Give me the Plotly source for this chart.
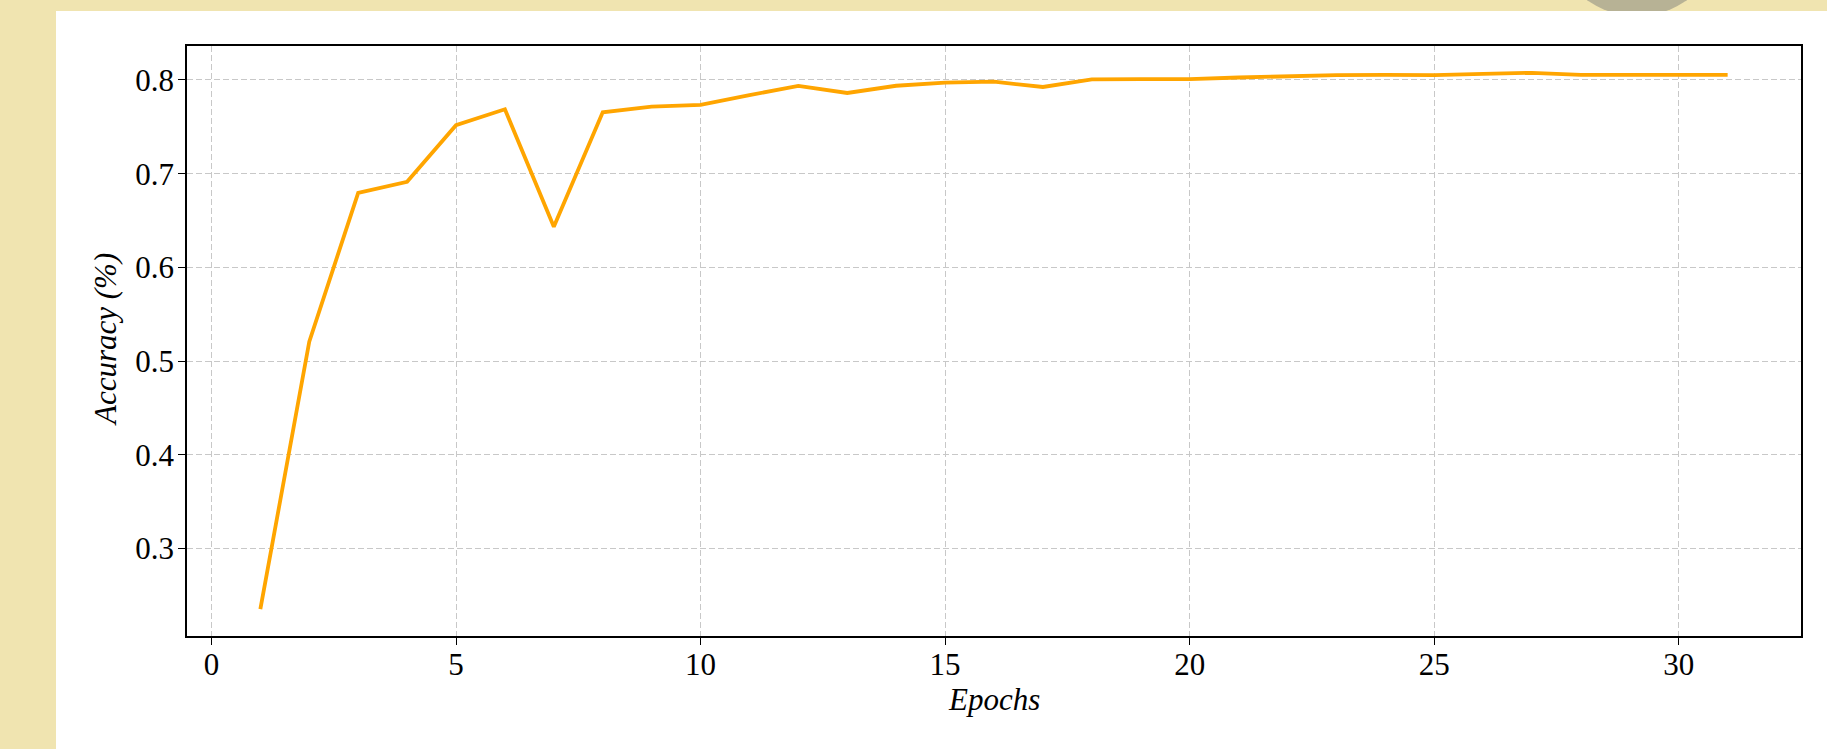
import plotly.graph_objects as go

# ---- data ----
epochs = list(range(1, 32))
accuracy = [0.2354, 0.5207, 0.6796, 0.6913, 0.7517, 0.7687, 0.6433, 0.7655,
            0.7716, 0.7734, 0.7838, 0.7936, 0.7861, 0.7938, 0.7972, 0.7981,
            0.7925, 0.8005, 0.8008, 0.8008, 0.8026, 0.8040, 0.8052, 0.8055,
            0.8051, 0.8064, 0.8076, 0.8054, 0.8054, 0.8054, 0.8055]
x_ticks = [0, 5, 10, 15, 20, 25, 30]
y_ticks = [0.3, 0.4, 0.5, 0.6, 0.7, 0.8]
y_tick_labels = ["0.3", "0.4", "0.5", "0.6", "0.7", "0.8"]
x_title = "Epochs"
y_title = "Accuracy (%)"

# ---- layout geometry (pixels) ----
W, H = 1827, 749
ML, MR, MT, MB = 187, 26, 46, 113
PW, PH = W - ML - MR, H - MT - MB


def px_x(p):
    return (p - ML) / PW


def px_y(p):
    return (H - MB - p) / PH


# matplotlib-style 5% autoscale margins
xmin, xmax = min(epochs), max(epochs)
ymin, ymax = min(accuracy), max(accuracy)
xr = [xmin - 0.05 * (xmax - xmin), xmax + 0.05 * (xmax - xmin)]
yr = [ymin - 0.05 * (ymax - ymin), ymax + 0.05 * (ymax - ymin)]

FONT = "Liberation Serif"
YELLOW = "#F0E4B0"

fig = go.Figure()
fig.add_trace(go.Scatter(x=epochs, y=accuracy, mode="lines",
                         line=dict(color="#FFA500", width=3.8),
                         hoverinfo="x+y", showlegend=False))

shapes = [
    # top yellow band
    dict(type="rect", xref="paper", yref="paper", layer="below",
         x0=px_x(0), x1=px_x(W), y0=px_y(0), y1=px_y(11),
         fillcolor=YELLOW, line=dict(width=0)),
    # grey circle peeking in the top band
    dict(type="circle", xref="paper", yref="paper", layer="below",
         x0=px_x(1550), x1=px_x(1724), y0=px_y(-158), y1=px_y(16),
         fillcolor="#B7B295", line=dict(width=0)),
    # left yellow band
    dict(type="rect", xref="paper", yref="paper", layer="below",
         x0=px_x(0), x1=px_x(56), y0=px_y(0), y1=px_y(H),
         fillcolor=YELLOW, line=dict(width=0)),
    # white page
    dict(type="rect", xref="paper", yref="paper", layer="below",
         x0=px_x(56), x1=px_x(W), y0=px_y(11), y1=px_y(H),
         fillcolor="white", line=dict(width=0)),
]

title_font = dict(family=FONT, size=31, color="black")
annotations = [
    dict(text="<i>" + x_title + "</i>", xref="paper", yref="paper",
         x=px_x(994), y=px_y(699), xanchor="center", yanchor="middle",
         showarrow=False, font=title_font),
    dict(text="<i>" + y_title + "</i>", xref="paper", yref="paper",
         x=px_x(105), y=px_y(340), xanchor="center", yanchor="middle",
         textangle=-90, showarrow=False, font=title_font),
]

axis_common = dict(
    showline=True, linecolor="black", linewidth=1.5, mirror=True,
    ticks="outside", ticklen=7, tickwidth=1.4, tickcolor="black",
    showgrid=True, gridcolor="#C8C8C8", gridwidth=1.2, griddash="6px,3px",
    zeroline=False,
    tickfont=dict(family=FONT, size=31, color="black"),
)

fig.update_layout(
    width=W, height=H,
    margin=dict(l=ML, r=MR, t=MT, b=MB, pad=0),
    paper_bgcolor="white", plot_bgcolor="white",
    shapes=shapes,
    annotations=annotations,
    xaxis=dict(range=xr, tickvals=x_ticks, ticklabelstandoff=-7,
               **axis_common),
    yaxis=dict(range=yr, tickvals=y_ticks, ticktext=y_tick_labels,
               ticklabelstandoff=-2, **axis_common),
)

fig.write_html("out.html",
               config={"displayModeBar": False},
               post_script="document.body.style.margin='0';"
                           "document.body.style.overflow='hidden';")
